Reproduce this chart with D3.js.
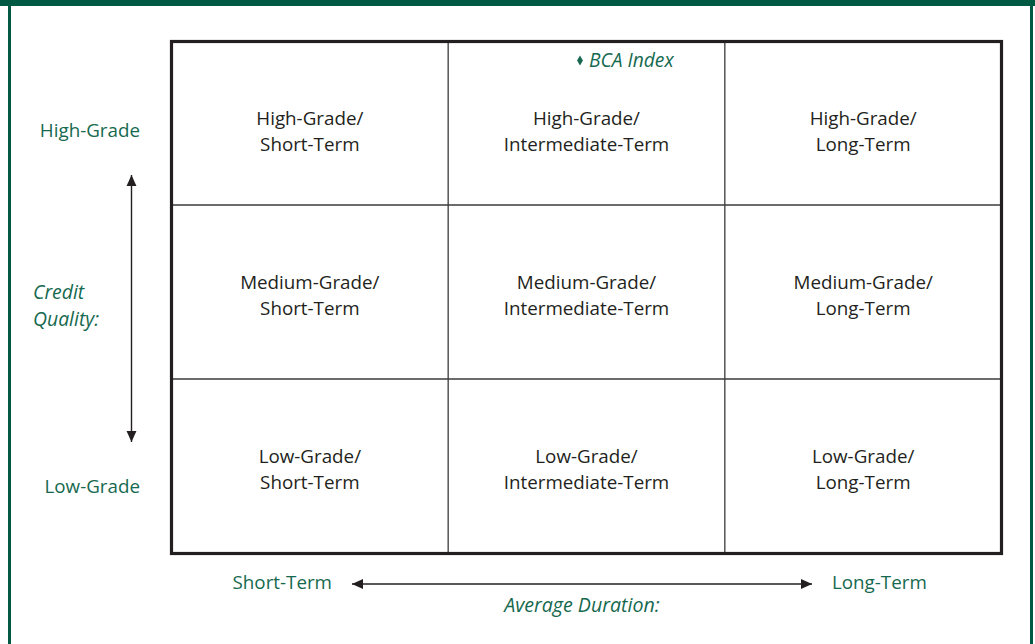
<!DOCTYPE html>
<html>
<head>
<meta charset="utf-8">
<script src="https://cdn.jsdelivr.net/npm/d3@7/dist/d3.min.js"></script>
<style>
  html, body { margin: 0; padding: 0; background: #fff; }
  svg { display: block; }
  text { font-family: "Open Sans", "Noto Sans", sans-serif; }
</style>
</head>
<body>
<svg id="chart" width="1035" height="644"></svg>
<script>
// ---- data ----
const durations = ["Short-Term", "Intermediate-Term", "Long-Term"];
const grades = ["High-Grade", "Medium-Grade", "Low-Grade"];
const yAxisEnds = ["High-Grade", "Low-Grade"];
const yAxisTitle = ["Credit", "Quality:"];
const xAxisEnds = ["Short-Term", "Long-Term"];
const xAxisTitle = "Average Duration:";
const marker = { label: "BCA Index", grade: "High-Grade", duration: "Intermediate-Term" };

// ---- styles ----
const green = "#005a43";
const textGreen = "#16694f";
const ink = "#231f20";

const svg = d3.select("#chart");
const W = 1035, H = 644;

svg.append("rect").attr("width", W).attr("height", H).attr("fill", "#fff");

// frame
svg.append("rect").attr("x", 0).attr("y", 0).attr("width", W).attr("height", 6).attr("fill", green);
svg.append("rect").attr("x", 8).attr("y", 0).attr("width", 3).attr("height", H).attr("fill", green);
svg.append("rect").attr("x", 1030).attr("y", 0).attr("width", 3).attr("height", H).attr("fill", green);

// scales
const x = d3.scaleBand().domain(durations).range([171.5, 1001.5]);
const rowEdge = d3.scaleLinear().domain([0, 1, 2, 3]).range([41.5, 205, 379, 553.5]);
const rowTop = g => rowEdge(grades.indexOf(g));
const rowBottom = g => rowEdge(grades.indexOf(g) + 1);
const rowMid = g => (rowTop(g) + rowBottom(g)) / 2;

// inner grid lines
const g = svg.append("g");
g.selectAll("line.v").data(durations.slice(1)).join("line")
  .attr("x1", d => x(d)).attr("x2", d => x(d))
  .attr("y1", rowEdge(0)).attr("y2", rowEdge(3))
  .attr("stroke", "#3b3b3b").attr("stroke-width", 1.3);
g.selectAll("line.h").data([1, 2]).join("line")
  .attr("x1", x.range()[0]).attr("x2", x.range()[1])
  .attr("y1", d => rowEdge(d)).attr("y2", d => rowEdge(d))
  .attr("stroke", "#3b3b3b").attr("stroke-width", 1.3);
// outer border
g.append("rect")
  .attr("x", x.range()[0]).attr("y", rowEdge(0))
  .attr("width", x.range()[1] - x.range()[0]).attr("height", rowEdge(3) - rowEdge(0))
  .attr("fill", "none").attr("stroke", ink).attr("stroke-width", 3.2);

// cell labels
const cells = [];
grades.forEach((gr, i) => durations.forEach(du => cells.push({ gr, du, i })));
const cellText = svg.append("g").selectAll("text").data(cells).join("text")
  .attr("text-anchor", "middle")
  .attr("font-size", 18.8)
  .attr("fill", "#231f20");
cellText.each(function (d) {
  const cx = x(d.du) + x.bandwidth() / 2;
  const cy = rowMid(d.gr) + (d.i === 0 ? 8 : 3);
  const t = d3.select(this);
  t.append("tspan").attr("x", cx).attr("y", cy - 6).text(d.gr + "/");
  t.append("tspan").attr("x", cx).attr("y", cy + 20).text(d.du);
});

// BCA index marker
const mx = x(marker.duration) + x.bandwidth() / 2;
svg.append("path")
  .attr("d", d3.symbol(d3.symbolDiamond, 30)())
  .attr("transform", `translate(${mx - 6.5},${rowTop(marker.grade) + 19})`)
  .attr("fill", textGreen);
svg.append("text")
  .attr("x", mx + 2.5).attr("y", rowTop(marker.grade) + 25.5)
  .attr("font-size", 19.2).attr("font-style", "italic")
  .attr("fill", textGreen).text(marker.label);

// arrow markers
const defs = svg.append("defs");
defs.append("marker").attr("id", "ah")
  .attr("viewBox", "0 0 10 10").attr("refX", 10).attr("refY", 5)
  .attr("markerWidth", 11).attr("markerHeight", 11)
  .attr("markerUnits", "userSpaceOnUse").attr("orient", "auto-start-reverse")
  .append("path").attr("d", "M0,0.5 L10,5 L0,9.5 Z").attr("fill", ink);

// vertical axis arrow
svg.append("line")
  .attr("x1", 131.5).attr("x2", 131.5).attr("y1", 175).attr("y2", 442)
  .attr("stroke", ink).attr("stroke-width", 1.4)
  .attr("marker-start", "url(#ah)").attr("marker-end", "url(#ah)");

// horizontal axis arrow
svg.append("line")
  .attr("x1", 352).attr("x2", 812).attr("y1", 584).attr("y2", 584)
  .attr("stroke", ink).attr("stroke-width", 1.4)
  .attr("marker-start", "url(#ah)").attr("marker-end", "url(#ah)");

// y axis labels
svg.append("text").attr("x", 140).attr("y", 137).attr("text-anchor", "end")
  .attr("font-size", 18.8).attr("fill", textGreen).text(yAxisEnds[0]);
svg.append("text").attr("x", 140).attr("y", 493).attr("text-anchor", "end")
  .attr("font-size", 18.8).attr("fill", textGreen).text(yAxisEnds[1]);
svg.append("text").attr("font-size", 19.4).attr("font-style", "italic").attr("fill", textGreen)
  .selectAll("tspan").data(yAxisTitle).join("tspan")
  .attr("x", 33).attr("y", (d, i) => 299 + i * 26.5).text(d => d);

// x axis labels
svg.append("text").attr("x", 332).attr("y", 589).attr("text-anchor", "end")
  .attr("font-size", 18.8).attr("fill", textGreen).text(xAxisEnds[0]);
svg.append("text").attr("x", 832).attr("y", 589).attr("text-anchor", "start")
  .attr("font-size", 18.8).attr("fill", textGreen).text(xAxisEnds[1]);
svg.append("text").attr("x", 582).attr("y", 612).attr("text-anchor", "middle")
  .attr("font-size", 19.6).attr("font-style", "italic").attr("fill", textGreen).text(xAxisTitle);
</script>
</body>
</html>
